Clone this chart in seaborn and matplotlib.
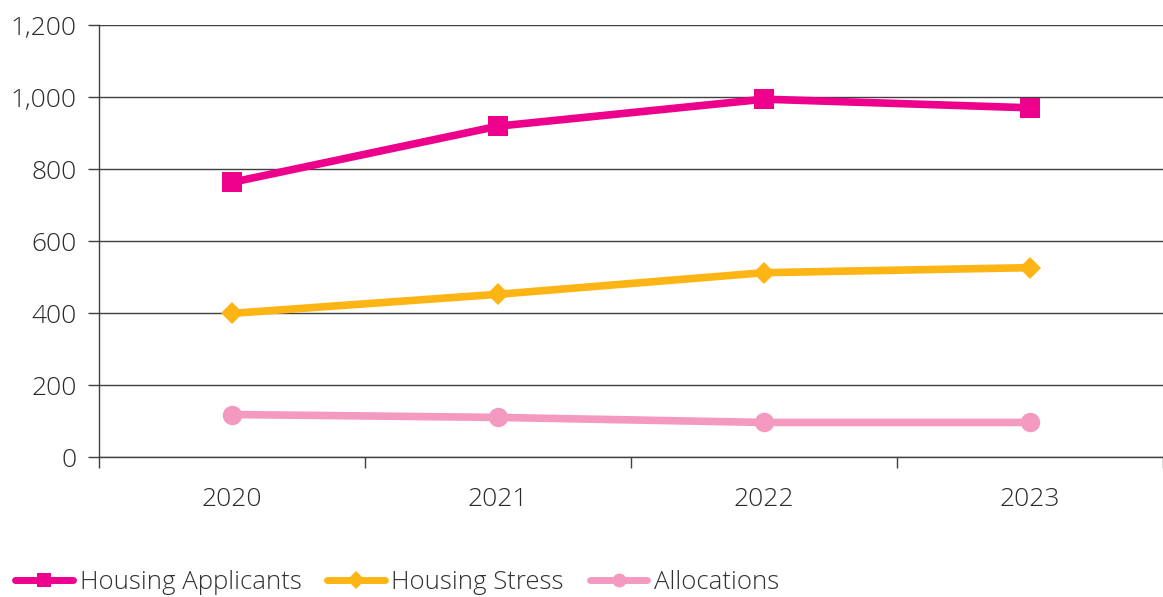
import pandas as pd
import seaborn as sns
import matplotlib.pyplot as plt
from matplotlib.ticker import FuncFormatter, FixedLocator

# data
years = ['2020', '2021', '2022', '2023']
housing_applicants = [763, 919, 994, 970]
housing_stress = [399, 452, 512, 526]
allocations = [118, 110, 96, 96]
series_names = ['Housing Applicants', 'Housing Stress', 'Allocations']
colors = ['#EC008C', '#FDB515', '#F49AC1']
markers = ['s', 'D', 'o']
y_ticks = [0, 200, 400, 600, 800, 1000, 1200]

df = pd.DataFrame({
    'year': years * 3,
    'value': housing_applicants + housing_stress + allocations,
    'series': [s for s in series_names for _ in years],
})

sns.set_style('white')
plt.rcParams['font.family'] = ['Open Sans', 'DejaVu Sans']
plt.rcParams['font.weight'] = 'light'

fig = plt.figure(figsize=(11.63, 5.97), dpi=100)
ax = fig.add_axes([0.0851, 0.2345, 0.9149, 0.7236])

sns.lineplot(ax=ax, data=df, x='year', y='value', hue='series', style='series',
             hue_order=series_names, style_order=series_names,
             palette=colors, markers=markers, dashes=False,
             linewidth=5.5, markersize=14, markeredgewidth=0, sort=False)
# diamond looks smaller than the square in the original
ax.lines[1].set_markersize(11.5)

ax.set_ylim(0, 1200)
ax.set_xlim(-0.5, 3.5)
ax.set_yticks(y_ticks)
ax.yaxis.set_major_formatter(FuncFormatter(lambda v, p: '{:,.0f}'.format(v)))
ax.grid(axis='y', color='#404040', linewidth=1)
ax.set_axisbelow(True)
for side in ['top', 'right']:
    ax.spines[side].set_visible(False)
for side in ['left', 'bottom']:
    ax.spines[side].set_color('#404040')
    ax.spines[side].set_linewidth(1)

ax.tick_params(axis='y', left=True, length=8, width=1, color='#404040',
               labelsize=19, labelcolor='#2b2b2b', pad=8)
ax.tick_params(axis='x', which='major', bottom=False, labelsize=19,
               labelcolor='#2b2b2b', pad=18)
ax.xaxis.set_minor_locator(FixedLocator([-0.5, 0.5, 1.5, 2.5, 3.5]))
ax.tick_params(axis='x', which='minor', bottom=True, length=8, width=1, color='#404040')
ax.set_xlabel('')
ax.set_ylabel('')

handles, labels = ax.get_legend_handles_labels()
for h in handles:
    h.set_markersize(10)
    h.set_linewidth(5)
handles[1].set_markersize(9)
ax.legend(handles, labels, loc='lower left', bbox_to_anchor=(0.0, -0.022),
          bbox_transform=fig.transFigure, ncol=3, frameon=False,
          fontsize=18.5, handlelength=2.25, handletextpad=0.25, columnspacing=1.0,
          labelcolor='#333333', borderaxespad=0.2)

plt.savefig('out.png', dpi=100)
